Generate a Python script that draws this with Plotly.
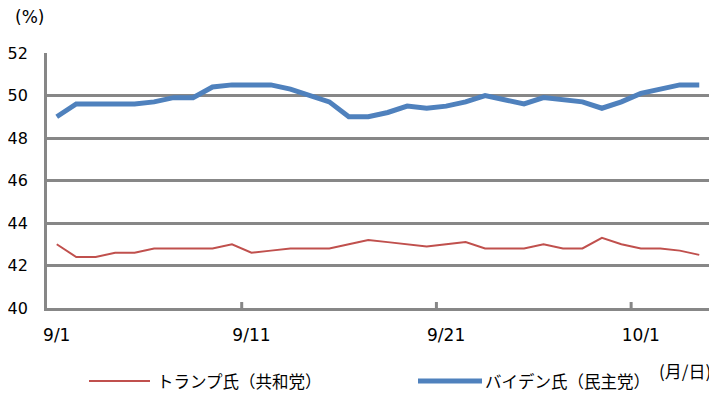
import plotly.graph_objects as go

# categories: daily, 9/1 .. 10/4
dates = [f"9/{d}" for d in range(1, 31)] + [f"10/{d}" for d in range(1, 5)]

trump = [43.0, 42.4, 42.4, 42.6, 42.6, 42.8, 42.8, 42.8, 42.8, 43.0,
         42.6, 42.7, 42.8, 42.8, 42.8, 43.0, 43.2, 43.1, 43.0, 42.9,
         43.0, 43.1, 42.8, 42.8, 42.8, 43.0, 42.8, 42.8, 43.3, 43.0,
         42.8, 42.8, 42.7, 42.5]

biden = [49.0, 49.6, 49.6, 49.6, 49.6, 49.7, 49.9, 49.9, 50.4, 50.5,
         50.5, 50.5, 50.3, 50.0, 49.7, 49.0, 49.0, 49.2, 49.5, 49.4,
         49.5, 49.7, 50.0, 49.8, 49.6, 49.9, 49.8, 49.7, 49.4, 49.7,
         50.1, 50.3, 50.5, 50.5]

tick_labels = ["9/1", "9/11", "9/21", "10/1"]
y_ticks = [40, 42, 44, 46, 48, 50, 52]

names = ["トランプ氏（共和党）", "バイデン氏（民主党）"]
colors = ["#C0504D", "#4F81BD"]
widths = [2, 5]

GRID = "#878787"
FONT = "DejaVu Sans, Noto Sans CJK JP"

# page body has an 8px default margin: compensate so the figure sits at the window origin
OFF = 8
W, H = 717 - OFF, 397 - OFF

fig = go.Figure()
for name, vals, c, w in zip(names, [trump, biden], colors, widths):
    fig.add_trace(go.Scatter(x=dates, y=vals, mode="lines", name=name,
                             line=dict(color=c, width=w), showlegend=False))

# target pixel positions in the window
L, R, T, B = 47, 709, 53, 308
def px(x): return (x - L) / (R - L)
def py(y): return (B - y) / (B - T)

legend_items = [(89, 150, 155), (418, 482, 483)]
for (x0, x1, xt), name, c, w in zip(legend_items, names, colors, widths):
    fig.add_shape(type="line", xref="paper", yref="paper",
                  x0=px(x0), x1=px(x1), y0=py(381), y1=py(381),
                  line=dict(color=c, width=w))
    fig.add_annotation(text=name, xref="paper", yref="paper", x=px(xt), y=py(381),
                       xanchor="left", yanchor="middle", showarrow=False,
                       font=dict(size=16.5, color="#000", family="Noto Sans CJK JP"))

fig.add_annotation(text="(月/日)", xref="paper", yref="paper", x=px(713), y=py(370),
                   xanchor="right", yanchor="middle", showarrow=False,
                   font=dict(size=17, color="#000", family="Noto Sans CJK JP"))
fig.add_annotation(text="(%)", xref="paper", yref="paper", x=px(13), y=py(17),
                   xanchor="left", yanchor="middle", showarrow=False,
                   font=dict(size=17, color="#000", family=FONT))

n = len(dates)
# tick marks sit on the boundaries between categories (every 10 days)
for i in range(10, n, 10):
    fig.add_shape(type="line", xref="x", yref="paper", x0=i - 0.5, x1=i - 0.5,
                  y0=0, y1=6 / (B - T), line=dict(color=GRID, width=3))

fig.update_layout(
    width=W, height=H,
    margin=dict(l=L - OFF, r=717 - R, t=T - OFF, b=397 - B, autoexpand=False),
    paper_bgcolor="white", plot_bgcolor="white",
    font=dict(family=FONT, size=16, color="#000"),
    xaxis=dict(type="category", range=[-0.5, n - 0.5], automargin=False,
               tickmode="array", tickvals=tick_labels, ticktext=tick_labels,
               tickangle=0, tickfont=dict(size=17),
               ticks="", showgrid=False, showline=True, linecolor=GRID,
               linewidth=3, ticklabelstandoff=10, zeroline=False),
    yaxis=dict(range=[40, 52], tickvals=y_ticks, showgrid=True, gridcolor=GRID,
               gridwidth=3, showline=True, linecolor=GRID, linewidth=3,
               automargin=False,
               ticks="outside", ticklen=13, tickcolor="rgba(0,0,0,0)",
               zeroline=False),
)

fig.write_html("out.html")
